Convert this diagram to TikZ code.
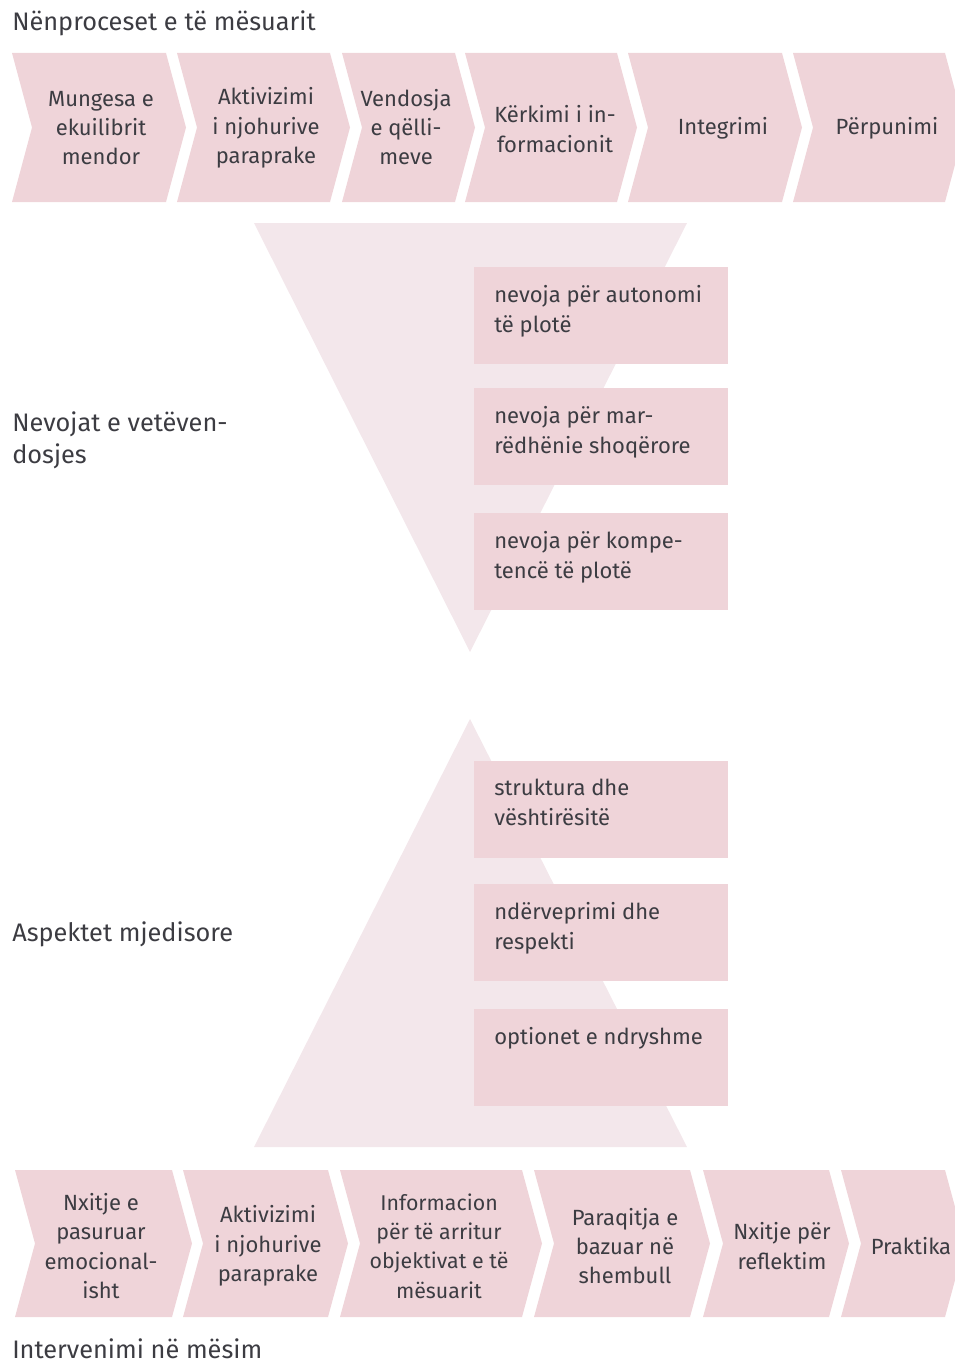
\documentclass[tikz,border=0pt]{standalone}
\usepackage{fontspec}
\setmainfont{Fira Sans}
\usetikzlibrary{calc}

\definecolor{chevfill}{RGB}{239,212,217}
\definecolor{trifill}{RGB}{243,231,235}
\definecolor{ink}{RGB}{60,60,66}

\tikzset{
  chevshape/.style={fill=chevfill},
  trishape/.style={fill=trifill},
  chevtext/.style={align=center, text=ink, inner sep=0pt,
    font=\fontsize{16.5}{22}\selectfont},
  boxshape/.style={fill=chevfill, anchor=north west, inner sep=0pt,
    minimum width=190.5pt, minimum height=72.75pt},
  boxtext/.style={anchor=north west, align=left, text=ink, inner sep=0pt,
    font=\fontsize{16.5}{22.5}\selectfont},
  sidelabel/.style={anchor=west, align=left, text=ink, inner sep=0pt,
    font=\fontsize{19}{24}\selectfont},
}

% one arrow-shaped step: left x, right x, top y, bottom y
\newcommand{\chevronshape}[4]{%
  \pgfmathsetmacro\ymid{(#3+#4)/2}
  \fill[chevshape] (#1,#3) -- (#2,#3) -- (#2+20,\ymid) -- (#2,#4)
    -- (#1,#4) -- (#1+20,\ymid) -- cycle;}

\begin{document}
\begin{tikzpicture}[x=0.75pt,y=-0.75pt]
\useasboundingbox (0,0) rectangle (955,1363);
\begin{scope}
\clip (0,0) rectangle (955,1363);

% upper row of steps
\chevronshape{12}{166}{53}{202}
\chevronshape{177}{330}{53}{202}
\chevronshape{342}{455}{53}{202}
\chevronshape{465}{617}{53}{202}
\chevronshape{628}{782}{53}{202}
\chevronshape{793}{945}{53}{202}

% lower row of steps
\chevronshape{15}{172}{1170}{1317}
\chevronshape{183}{328}{1170}{1317}
\chevronshape{340}{522}{1170}{1317}
\chevronshape{534}{690}{1170}{1317}
\chevronshape{703}{829}{1170}{1317}
\chevronshape{841}{945}{1170}{1317}

% funnel and pyramid
\fill[trishape] (254,223) -- (687,223) -- (470,652) -- cycle;
\fill[trishape] (470,719) -- (687,1147) -- (254,1147) -- cycle;
\end{scope}

% titles and side labels
\node[sidelabel] (title) at (12,23) {Nënproceset e të mësuarit};
\node[sidelabel] (needs) at (12,440) {Nevojat e vetëven-\\dosjes};
\node[sidelabel] (env) at (12,934) {Aspektet mjedisore};
\node[sidelabel] (interv) at (12,1349) {Intervenimi në mësim};

% upper step texts
\node[chevtext] (t1) at (101,128) {Mungesa e\\ekuilibrit\\mendor};
\node[chevtext] (t2) at (266,128) {Aktivizimi\\i njohurive\\paraprake};
\node[chevtext] (t3) at (406,127) {Vendosja\\e qëlli-\\meve};
\node[chevtext] (t4) at (555,129) {Kërkimi i in-\\formacionit};
\node[chevtext] (t5) at (723,128) {Integrimi};
\node[chevtext] (t6) at (887,128) {Përpunimi};

% lower step texts
\node[chevtext] (b1) at (101,1246) {Nxitje e\\pasuruar\\emocional-\\isht};
\node[chevtext] (b2) at (268,1246) {Aktivizimi\\i njohurive\\paraprake};
\node[chevtext, font=\fontsize{16}{22}\selectfont] (b3) at (439,1246) {Informacion\\për të arritur\\objektivat e të\\mësuarit};
\node[chevtext] (b4) at (625,1246) {Paraqitja e\\bazuar në\\shembull};
\node[chevtext] (b5) at (782,1246) {Nxitje për\\reflektim};
\node[chevtext] (b6) at (911,1246) {Praktika};

% boxes beside the funnel
\node[boxshape] (n1) at (474,267) {};
\node[boxshape] (n2) at (474,388) {};
\node[boxshape] (n3) at (474,513) {};
\node[boxtext] (n1t) at ($(n1.north west)+(20,18)$) {nevoja për autonomi\\të plotë};
\node[boxtext] (n2t) at ($(n2.north west)+(20,18)$) {nevoja për mar-\\rëdhënie shoqërore};
\node[boxtext] (n3t) at ($(n3.north west)+(20,18)$) {nevoja për kompe-\\tencë të plotë};

% boxes beside the pyramid
\node[boxshape] (e1) at (474,761) {};
\node[boxshape] (e2) at (474,884) {};
\node[boxshape] (e3) at (474,1009) {};
\node[boxtext] (e1t) at ($(e1.north west)+(20,18)$) {struktura dhe\\vështirësitë};
\node[boxtext] (e2t) at ($(e2.north west)+(20,18)$) {ndërveprimi dhe\\respekti};
\node[boxtext] (e3t) at ($(e3.north west)+(20,18)$) {optionet e ndryshme};
\end{tikzpicture}
\end{document}
